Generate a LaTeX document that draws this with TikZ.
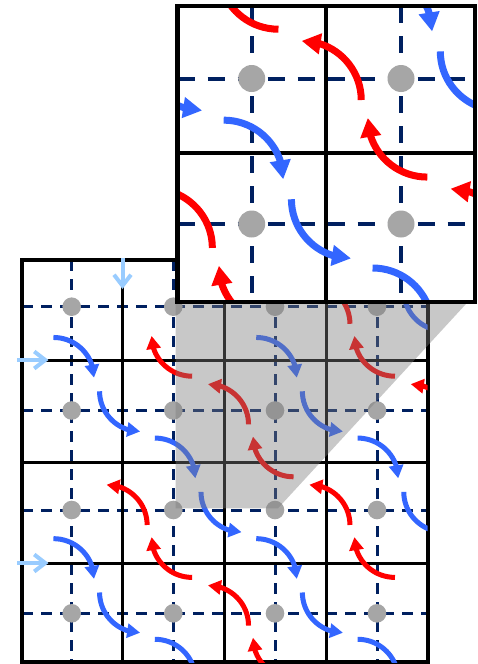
\documentclass[tikz,border=0pt]{standalone}
\usetikzlibrary{arrows.meta,bending}
\definecolor{navy}{RGB}{0,32,96}
\definecolor{dotg}{RGB}{166,166,166}
\definecolor{myblue}{RGB}{51,102,255}
\definecolor{myred}{RGB}{255,0,0}
\definecolor{ltblue}{RGB}{153,204,255}
\definecolor{shadegray}{RGB}{123,123,123}
\newcommand\arcES[3]{\draw[#1] (#2,#3) arc[start angle=-90,end angle=0,radius=0.4];}
\newcommand\arcSE[3]{\draw[#1] (#2,#3) arc[start angle=180,end angle=90,radius=0.4];}
\newcommand\arcNW[3]{\draw[#1] (#2,#3) arc[start angle=0,end angle=-90,radius=0.4];}
\newcommand\arcWN[3]{\draw[#1] (#2,#3) arc[start angle=90,end angle=180,radius=0.4];}
\tikzset{
  dashA/.style={navy, line width=3pt, dash pattern=on 11pt off 8pt},
  dashB/.style={navy, line width=4pt, dash pattern=on 17pt off 13pt},
  solA/.style={black, line width=3pt},
  bordA/.style={black, line width=3.8pt},
  solB/.style={black, line width=4pt},
  bordB/.style={black, line width=4.2pt},
  bA/.style={myblue, line width=5pt, -{Triangle[length=13pt,width=14pt]}},
  rA/.style={myred, line width=5pt, -{Triangle[length=13pt,width=14pt]}},
  bB/.style={myblue, line width=7pt, -{Triangle[length=19pt,width=20pt]}},
  rB/.style={myred, line width=7pt, -{Triangle[length=19pt,width=20pt]}},
  lb/.style={ltblue, line width=4pt, -{Straight Barb[length=11pt,width=17pt]}},
}
\begin{document}
\begin{tikzpicture}[x=1pt,y=-1pt]
\useasboundingbox (0,0) rectangle (477,664);
% ---------- lower grid ----------
\foreach \x in {71.7,173.3,275,377} \draw[dashA] (\x,260) -- (\x,662.3);
\foreach \y in {306.7,410.5,510,613.3} \draw[dashA] (22,\y) -- (427.7,\y);
\foreach \x in {122.5,224,326.5} \draw[solA] (\x,260) -- (\x,662.3);
\foreach \y in {360,462.2,563} \draw[solA] (22,\y) -- (427.7,\y);
\draw[bordA] (22,260) rectangle (427.7,662.3);
\foreach \x in {71.7,173.3,275,377}
  \foreach \y in {306.7,410.5,510,613.3}
    \fill[dotg] (\x,\y) circle (9.3);
\begin{scope}
\clip (22,260) rectangle (427.7,662.3);
\begin{scope}[shift={(22,260)}, x=101.4pt, y=-100.6pt]
  % blue chain A
  \foreach \k in {0,1,2,3} {\arcES{bA}{0.31+\k}{0.77+\k}}
  \foreach \k in {0,1,2} {\arcSE{bA}{0.765+\k}{1.305+\k}}
  % blue chain B
  \arcES{bA}{2.31}{0.77} \arcES{bA}{3.31}{1.77}
  \arcSE{bA}{2.765}{1.305} \arcSE{bA}{3.765}{2.305}
  % blue chain C
  \arcES{bA}{0.31}{2.77} \arcES{bA}{1.31}{3.77}
  \arcSE{bA}{0.765}{3.305}
  % blue chain D
  \arcSE{bA}{3.765}{0.305}
  % red chain 1
  \foreach \k in {0,1,2} {\arcWN{rA}{1.678+\k}{1.155+\k}}
  \foreach \k in {0,1} {\arcNW{rA}{2.234+\k}{1.634+\k}}
  % red chain lower
  \arcNW{rA}{1.234}{2.634} \arcNW{rA}{2.234}{3.634}
  \arcWN{rA}{1.678}{3.155} \arcWN{rA}{2.678}{4.155}
  % red chain right
  \arcWN{rA}{3.678}{1.155} \arcNW{rA}{4.234}{1.634} \arcNW{rA}{3.234}{0.634}
\end{scope}
\end{scope}
\draw[lb] (122.5,258) -- (122.5,289);
\draw[lb] (17,360) -- (48.5,360);
\draw[lb] (17,563) -- (48.5,563);
% ---------- shaded projection ----------
\fill[shadegray, fill opacity=0.416] (175.5,302) -- (467.8,302) -- (278,508.3) -- (175.5,508.3) -- cycle;
% ---------- magnified inset ----------
\fill[white] (177.5,6.3) rectangle (475.3,302);
\foreach \x in {251.7,401} \draw[dashB] (\x,6.3) -- (\x,302);
\foreach \y in {78.5,224} \draw[dashB] (177.5,\y) -- (475.3,\y);
\draw[solB] (326,6.3) -- (326,302);
\draw[solB] (177.5,153.3) -- (475.3,153.3);
\foreach \x in {251.7,401}
  \foreach \y in {78.5,224}
    \fill[dotg] (\x,\y) circle (13.5);
\begin{scope}
\clip (177.5,6.3) rectangle (475.3,302);
\begin{scope}[shift={(177.5,6.3)}, x=148.9pt, y=-147.85pt]
  \arcSE{bB}{-0.235}{0.305} \arcES{bB}{0.31}{0.77}
  \arcSE{bB}{0.765}{1.305} \arcES{bB}{1.31}{1.77}
  \arcES{bB}{1.31}{-0.23} \arcSE{bB}{1.765}{0.305}
  \arcWN{rB}{0.678}{0.155} \arcNW{rB}{1.234}{0.634}
  \arcWN{rB}{1.678}{1.155} \arcNW{rB}{2.234}{1.634}
  \arcNW{rB}{0.234}{1.634} \arcWN{rB}{0.678}{2.155}
\end{scope}
\end{scope}
\draw[bordB] (177.5,6.3) rectangle (475.3,302);
\end{tikzpicture}
\end{document}
